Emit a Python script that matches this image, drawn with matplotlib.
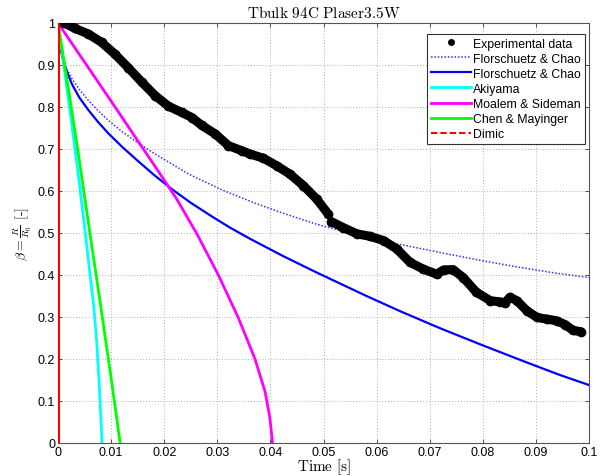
import matplotlib
matplotlib.use("Agg")
import matplotlib.pyplot as plt
from matplotlib.lines import Line2D

plt.rcParams['mathtext.fontset'] = 'cm'
plt.rcParams['font.family'] = ['Liberation Sans', 'DejaVu Sans']

# Experimental data (two segments, visible gap near t=0.051 s)
exp_t1 = [0.0012, 0.0032, 0.0057, 0.0082, 0.0107, 0.0132, 0.0158, 0.0183, 0.0208, 0.0233,
          0.0252, 0.0271, 0.0296, 0.0321, 0.0346, 0.0362, 0.0387, 0.0412, 0.0437, 0.0462,
          0.0487, 0.0509]
exp_y1 = [1.0, 0.987, 0.974, 0.954, 0.926, 0.894, 0.859, 0.827, 0.802, 0.787,
          0.775, 0.756, 0.736, 0.708, 0.696, 0.688, 0.678, 0.660, 0.640, 0.613,
          0.581, 0.545]
exp_t2 = [0.0515, 0.0537, 0.0563, 0.0588, 0.0613, 0.0638, 0.0663, 0.0688, 0.0713, 0.0726,
          0.0744, 0.0763, 0.0788, 0.0814, 0.0832, 0.0842, 0.0851, 0.0864, 0.0883, 0.0902,
          0.0920, 0.0939, 0.0955, 0.0970, 0.0985]
exp_y2 = [0.527, 0.513, 0.498, 0.492, 0.482, 0.462, 0.430, 0.414, 0.402, 0.412,
          0.413, 0.394, 0.359, 0.339, 0.336, 0.334, 0.347, 0.339, 0.315, 0.299,
          0.295, 0.291, 0.282, 0.268, 0.265]

# Florschuetz & Chao (dotted)
fc1_t = [0, 0.0003, 0.0008, 0.0015, 0.0026, 0.004, 0.0057, 0.0075, 0.0095, 0.012, 0.015,
         0.0183, 0.0245, 0.0308, 0.0371, 0.0424, 0.0487, 0.055, 0.0613, 0.0675, 0.0738,
         0.0795, 0.087, 0.0945, 0.1]
fc1_y = [1.0, 0.952, 0.922, 0.895, 0.868, 0.842, 0.816, 0.792, 0.768, 0.742, 0.715,
         0.688, 0.641, 0.603, 0.571, 0.547, 0.521, 0.499, 0.481, 0.465, 0.449,
         0.435, 0.418, 0.403, 0.394]

# Florschuetz & Chao (solid)
fc2_t = [0, 0.0003, 0.0008, 0.0015, 0.0026, 0.004, 0.0057, 0.0075, 0.0095, 0.012, 0.015,
         0.0183, 0.0217, 0.025, 0.0289, 0.0325, 0.0362, 0.0424, 0.0487, 0.0581, 0.0644,
         0.072, 0.0795, 0.087, 0.0945, 0.1]
fc2_y = [1.0, 0.95, 0.92, 0.89, 0.855, 0.823, 0.793, 0.765, 0.737, 0.706, 0.672,
         0.636, 0.602, 0.572, 0.54, 0.512, 0.486, 0.445, 0.406, 0.35, 0.314,
         0.273, 0.235, 0.198, 0.162, 0.138]

# Akiyama
ak_t = [0, 0.001, 0.002, 0.003, 0.004, 0.005, 0.006, 0.0067, 0.0073, 0.0078, 0.0083]
ak_y = [1.0, 0.908, 0.815, 0.72, 0.62, 0.515, 0.405, 0.33, 0.24, 0.13, 0.0]

# Moalem & Sideman
ms_t = [0, 0.005, 0.01, 0.015, 0.019, 0.0224, 0.0262, 0.0302, 0.034, 0.0371, 0.039, 0.0399, 0.0404]
ms_y = [1.0, 0.907, 0.814, 0.72, 0.645, 0.58, 0.497, 0.4, 0.297, 0.2, 0.122, 0.06, 0.0]

# Chen & Mayinger
cm_t = [0, 0.002, 0.004, 0.006, 0.008, 0.010, 0.0117]
cm_y = [1.0, 0.84, 0.675, 0.5, 0.33, 0.155, 0.0]

# Dimic
di_t = [0.0002, 0.0002]
di_y = [1.0, 0.0]

xticks = [0, 0.01, 0.02, 0.03, 0.04, 0.05, 0.06, 0.07, 0.08, 0.09, 0.1]
xticklabels = ['0', '0.01', '0.02', '0.03', '0.04', '0.05', '0.06', '0.07', '0.08', '0.09', '0.1']
yticks = [0, 0.1, 0.2, 0.3, 0.4, 0.5, 0.6, 0.7, 0.8, 0.9, 1.0]
yticklabels = ['0', '0.1', '0.2', '0.3', '0.4', '0.5', '0.6', '0.7', '0.8', '0.9', '1']

labels = ['Experimental data', 'Florschuetz & Chao', 'Florschuetz & Chao', 'Akiyama',
          'Moalem & Sideman', 'Chen & Mayinger', 'Dimic']

fig = plt.figure(figsize=(6.03, 4.77), dpi=100)
ax = fig.add_axes([58/603, 1-444/477, (589-58)/603, (444-24)/477])

for t, y in ((exp_t1, exp_y1), (exp_t2, exp_y2)):
    ax.plot(t, y, color='black', lw=6.5, solid_capstyle='round', solid_joinstyle='round', zorder=5)
    ax.plot(t, y, 'o', color='black', ms=6, zorder=5)

ax.plot(fc1_t, fc1_y, color='#3030ff', lw=1.1, ls=(0, (1, 1.2)), zorder=3)
ax.plot(fc2_t, fc2_y, color='#0000ff', lw=1.6, zorder=3)
ax.plot(ak_t, ak_y, color='#00ffff', lw=2, zorder=3)
ax.plot(ms_t, ms_y, color='#ff00ff', lw=2, zorder=3)
ax.plot(cm_t, cm_y, color='#00ff00', lw=2, zorder=3)
ax.plot(di_t, di_y, color='#ff0000', lw=1.5, zorder=4)

handles = [
    Line2D([], [], color='black', marker='o', ms=4, ls='none'),
    Line2D([], [], color='#3030ff', lw=1.1, ls=(0, (1, 1.2))),
    Line2D([], [], color='#0000ff', lw=1.6),
    Line2D([], [], color='#00ffff', lw=2),
    Line2D([], [], color='#ff00ff', lw=2),
    Line2D([], [], color='#00ff00', lw=2),
    Line2D([], [], color='#ff0000', lw=1.5, ls=(0, (3, 1.5))),
]
leg = ax.legend(handles, labels, loc='upper right', bbox_to_anchor=(0.992, 0.974),
                borderaxespad=0, fontsize=8.8, frameon=True, fancybox=False,
                framealpha=1, edgecolor='#333333', handlelength=3.3,
                labelspacing=0.25, borderpad=0.3, handletextpad=0.2)
leg.get_frame().set_linewidth(0.8)
leg.set_zorder(10)

ax.set_xlim(0, 0.1)
ax.set_ylim(0, 1)
ax.set_xticks(xticks)
ax.set_xticklabels(xticklabels)
ax.set_yticks(yticks)
ax.set_yticklabels(yticklabels)
ax.tick_params(direction='in', length=3, width=0.6, top=True, right=True,
               labelsize=9, colors='#333333', labelcolor='black', pad=2)
ax.grid(True, color='#b0b0b0', ls=(0, (1, 2)), lw=0.7)
for s in ax.spines.values():
    s.set_color('#555555')
    s.set_linewidth(0.8)

ax.set_title(r'$\mathrm{Tbulk\ 94C\ Plaser3.5W}$', fontsize=11, pad=4)
ax.set_xlabel(r'$\mathrm{Time\ [s]}$', fontsize=11, labelpad=-1)
ax.set_ylabel(r'$\beta = \frac{R}{R_0}$ [-]', fontsize=10, labelpad=3,
              family=['cmr10', 'DejaVu Serif'])

fig.savefig('out.png', dpi=100)
